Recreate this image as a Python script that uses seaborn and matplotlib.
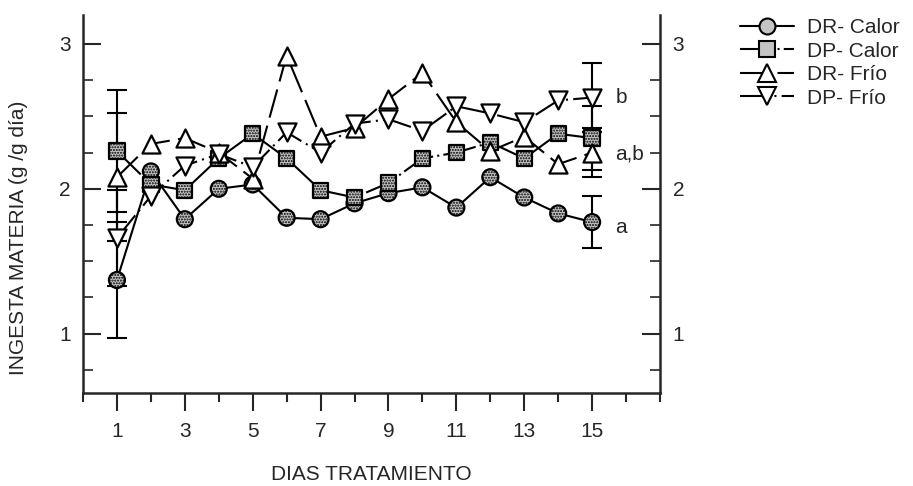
import numpy as np
import pandas as pd
import seaborn as sns
import matplotlib
matplotlib.use("Agg")
import matplotlib.pyplot as plt
from matplotlib.lines import Line2D
from matplotlib.ticker import MultipleLocator, FixedLocator

# ---------------- data ----------------
days = [1, 2, 3, 4, 5, 6, 7, 8, 9, 10, 11, 12, 13, 14, 15]
dr_calor = [1.37, 2.12, 1.79, 2.00, 2.03, 1.80, 1.79, 1.90, 1.97, 2.01, 1.87, 2.08, 1.94, 1.83, 1.77]
dp_calor = [2.26, 2.03, 1.99, 2.21, 2.38, 2.21, 1.99, 1.94, 2.04, 2.21, 2.25, 2.32, 2.21, 2.38, 2.35]
dr_frio = [2.08, 2.31, 2.35, 2.25, 2.07, 2.92, 2.36, 2.42, 2.62, 2.80, 2.46, 2.26, 2.36, 2.17, 2.25]
dp_frio = [1.66, 1.95, 2.16, 2.24, 2.15, 2.39, 2.25, 2.45, 2.48, 2.40, 2.57, 2.52, 2.46, 2.61, 2.63]

err_days = [1, 15]
err_dr_calor = [0.40, 0.18]
err_dp_calor = [0.42, 0.22]
err_dr_frio = [0.44, 0.17]
err_dp_frio = [0.33, 0.24]

labels = ["DR- Calor", "DP- Calor", "DR- Frío", "DP- Frío"]
sig_labels = ["b", "a,b", "a"]
sig_y = [2.63, 2.24, 1.73]

xticks_major = [1, 3, 5, 7, 9, 11, 13, 15]

# ---------------- style ----------------
sns.set_style("ticks")
plt.rcParams["font.family"] = ["Liberation Sans", "DejaVu Sans"]
plt.rcParams["hatch.linewidth"] = 1.0

fig = plt.figure(figsize=(9.13, 4.86), dpi=100)
ax = fig.add_axes([83 / 913, 1 - 393 / 486, (660 - 83) / 913, (393 - 15) / 486])

gray = "#c4c4c4"
series = [
    (dr_calor, err_dr_calor, "o", 132, gray, "-"),
    (dp_calor, err_dp_calor, "s", 121, gray, (0, (16, 2, 1, 2))),
    (dr_frio, err_dr_frio, "^", 169, "white", (0, (14, 4))),
    (dp_frio, err_dp_frio, "v", 169, "white", (0, (14, 2.5, 1, 2.5))),
]

for vals, errs, mk, s, fc, ls in series:
    df = pd.DataFrame({"dia": days, "val": vals})
    sns.lineplot(data=df, x="dia", y="val", color="black", lw=1.5,
                 linestyle=ls, ax=ax, zorder=2)
    ev = [vals[days.index(d)] for d in err_days]
    ax.errorbar(err_days, ev, yerr=errs, fmt="none", ecolor="black",
                elinewidth=1.5, capsize=7, capthick=1.5, zorder=1.5)

for vals, errs, mk, s, fc, ls in series:
    df = pd.DataFrame({"dia": days, "val": vals})
    kw = dict(hatch="......") if fc != "white" else {}
    sns.scatterplot(data=df, x="dia", y="val", marker=mk, s=s, color=fc,
                    edgecolor="black", linewidth=1.6, ax=ax, zorder=4, **kw)

# significance letters
for lab, yv in zip(sig_labels, sig_y):
    ax.text(15.68, yv, lab, fontsize=15, ha="left", va="center")

# ---------------- axes ----------------
ax.set_xlim(0, 17)
ax.set_ylim(0.59, 3.2)
ax.xaxis.set_major_locator(FixedLocator(xticks_major))
ax.xaxis.set_minor_locator(MultipleLocator(1))
ax.yaxis.set_major_locator(MultipleLocator(1))
ax.yaxis.set_minor_locator(MultipleLocator(0.25))

ax.tick_params(axis="x", which="major", direction="out", length=13, width=1.5,
               labelsize=15, pad=8)
ax.tick_params(axis="x", which="minor", direction="out", length=6.5, width=1.5)
ax.tick_params(axis="y", which="major", direction="in", length=13, width=1.5,
               left=True, right=True, labelleft=True, labelright=True,
               labelsize=15, pad=9)
ax.tick_params(axis="y", which="minor", direction="in", length=7, width=1.2,
               left=True, right=True)

for side in ["left", "bottom", "right"]:
    ax.spines[side].set_linewidth(1.8)
    ax.spines[side].set_visible(True)
ax.spines["top"].set_visible(False)

ax.set_xlabel("DIAS TRATAMIENTO", fontsize=15)
ax.set_ylabel("INGESTA MATERIA (g /g día)", fontsize=15)
ax.xaxis.set_label_coords(0.5, -0.19)
ax.yaxis.set_label_coords(-0.095, 0.41)

# ---------------- legend ----------------
handles = []
for vals, errs, mk, s, fc, ls in series:
    handles.append(Line2D([0], [0], color="black", lw=1.5, linestyle=ls,
                          marker=mk, markersize=np.sqrt(s), markerfacecolor=fc,
                          markeredgecolor="black", markeredgewidth=1.5))
fig.legend(handles, labels, loc="upper left", bbox_to_anchor=(740 / 913, 1 - 18 / 486),
           frameon=False, fontsize=15, borderpad=0, borderaxespad=0,
           handlelength=2.6, handletextpad=0.6, labelspacing=0.22)

fig.savefig("out.png", dpi=100)
